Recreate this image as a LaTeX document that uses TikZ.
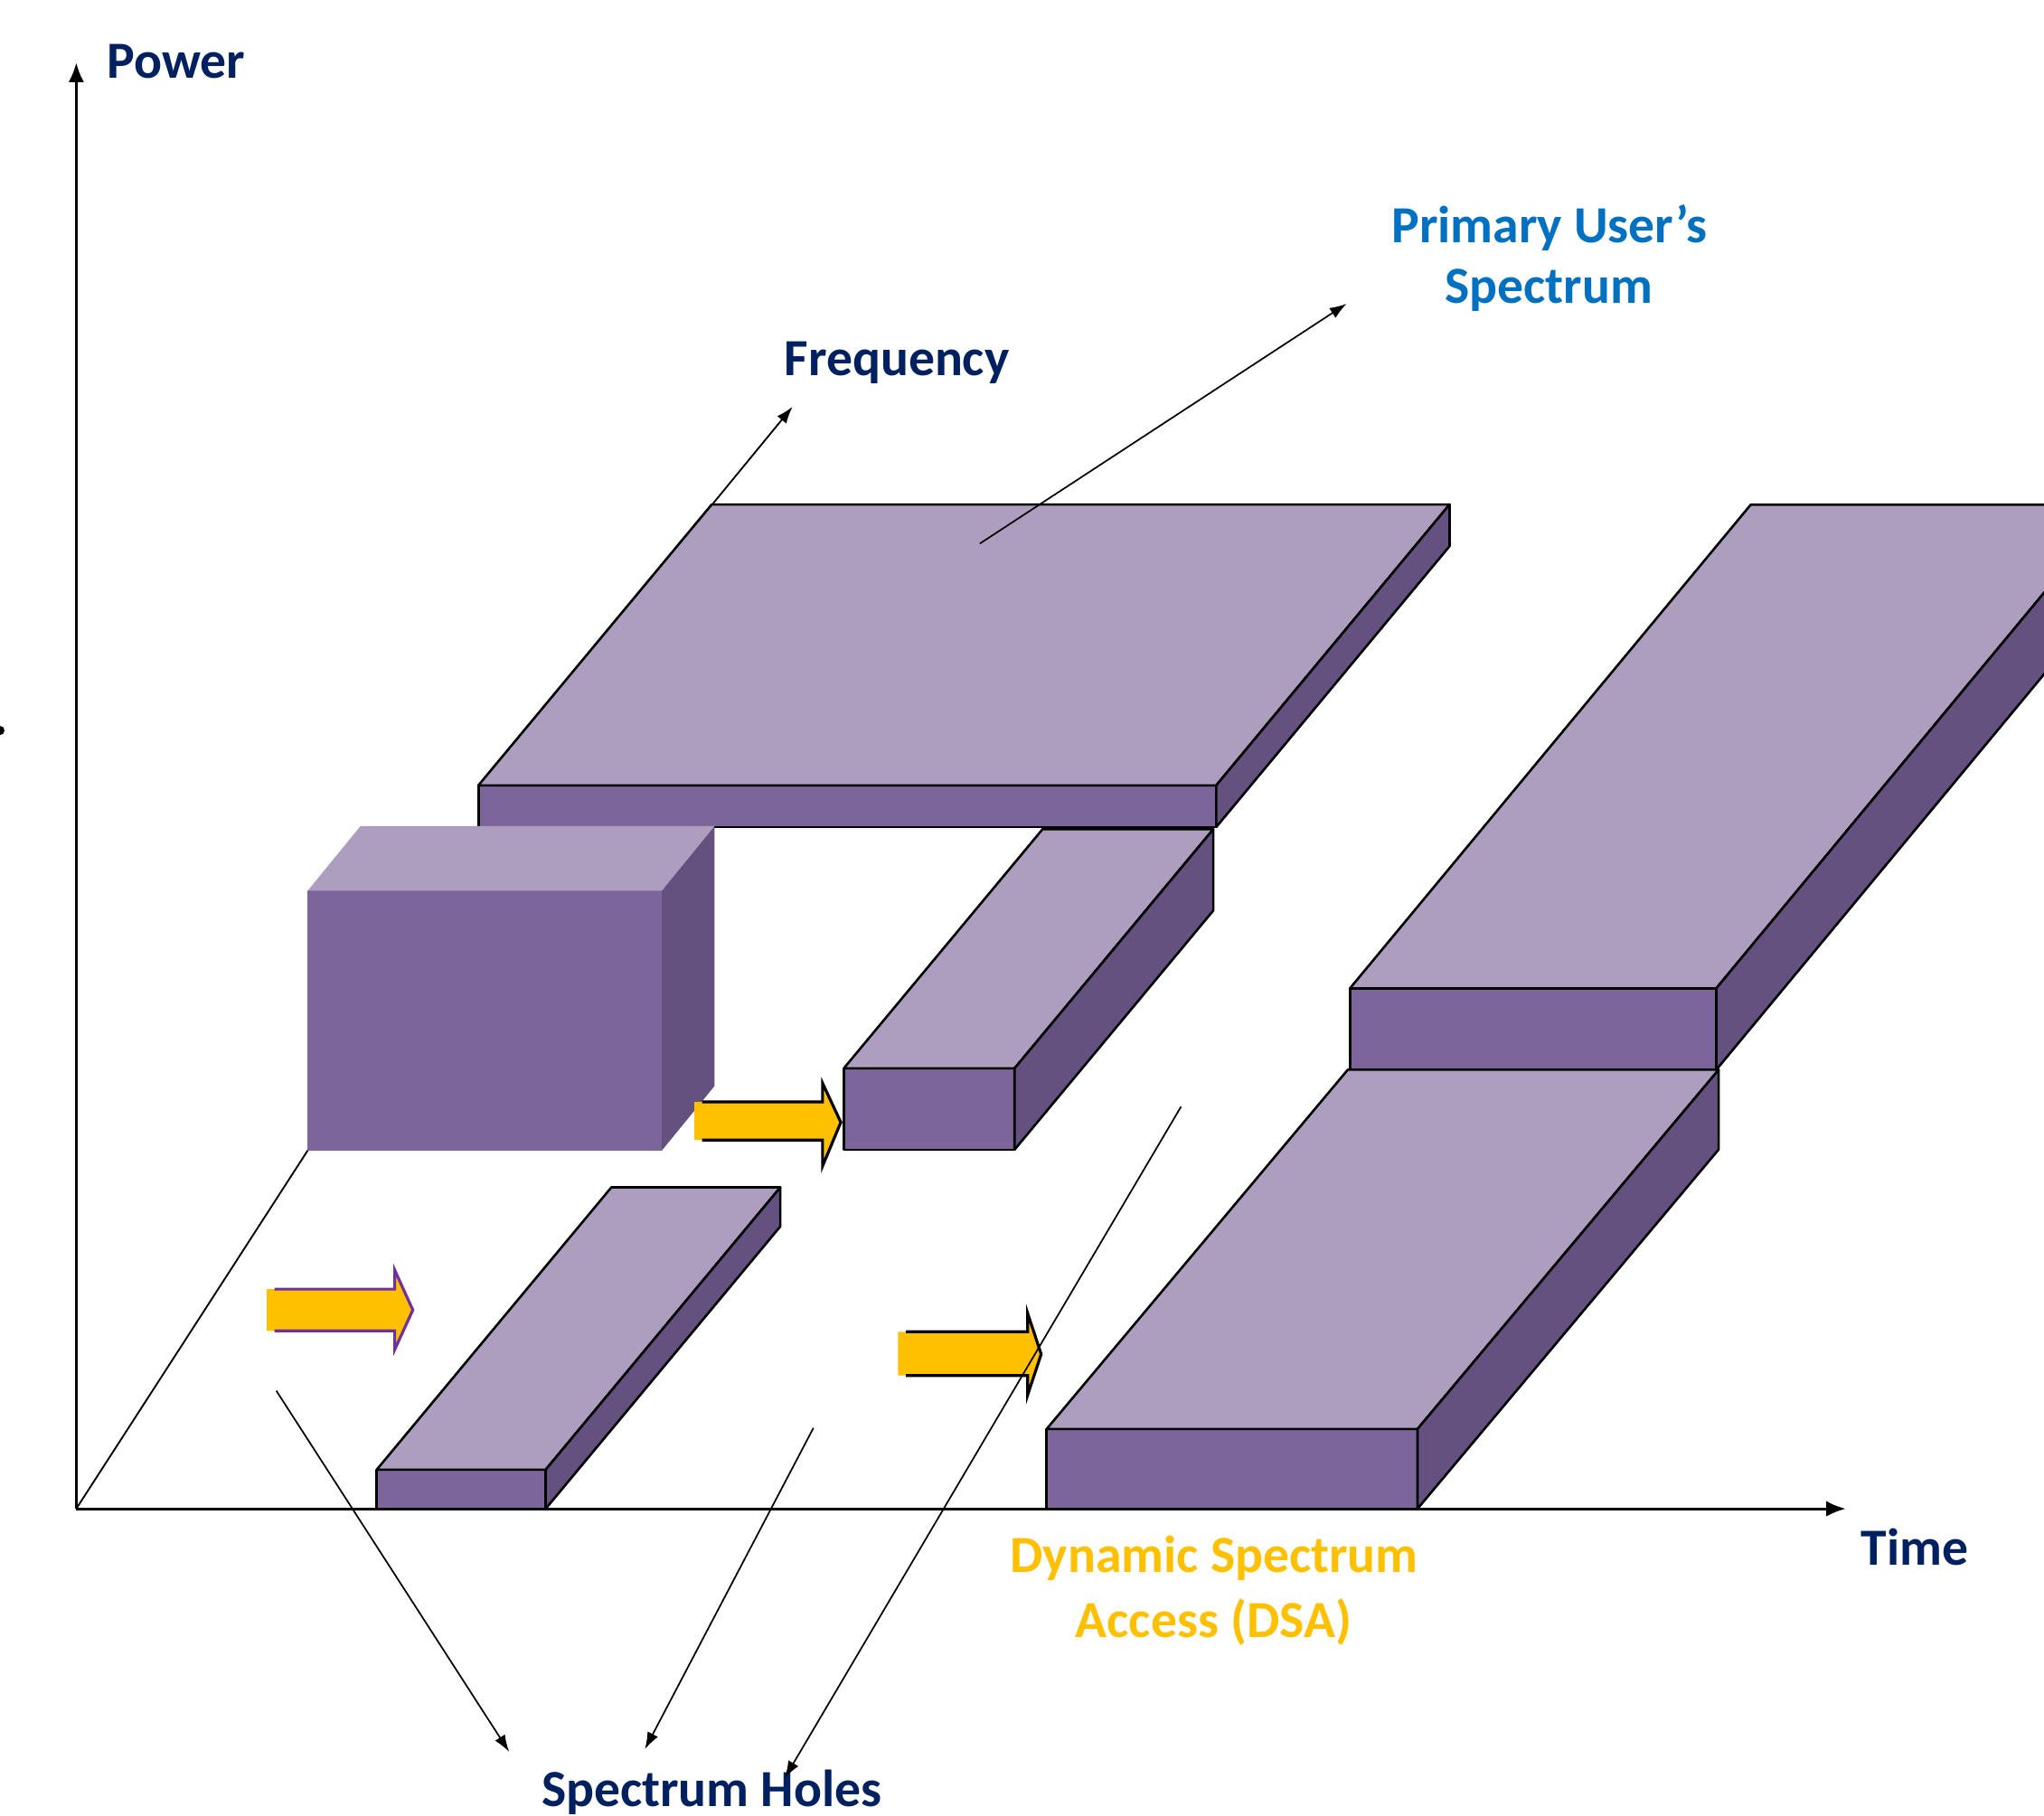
\documentclass[tikz,border=0pt]{standalone}
\usepackage{fontspec}
\setmainfont{Carlito}
\usetikzlibrary{arrows.meta}
\definecolor{topc}{HTML}{AD9EC0}
\definecolor{frontc}{HTML}{7C659A}
\definecolor{sidec}{HTML}{645180}
\definecolor{gold}{HTML}{FFC000}
\definecolor{navy}{HTML}{002060}
\definecolor{pblue}{HTML}{0070C0}
\definecolor{arrowpurple}{HTML}{7030A0}
% #1 edge style, #2 x, #3 y bottom, #4 width, #5 height, #6 dx, #7 dy (depth)
\newcommand{\mybox}[7]{%
  \path[#1,fill=frontc] (#2,#3) rectangle ++(#4,-#5);
  \path[#1,fill=topc] (#2,#3-#5) -- ++(#4,0) -- ++(#6,#7) -- ++(-#4,0) -- cycle;
  \path[#1,fill=sidec] (#2+#4,#3-#5) -- ++(#6,#7) -- ++(0,#5) -- (#2+#4,#3) -- cycle;
}
% block arrow: #1 outline colour, #2 x left, #3 x head, #4 y top, #5 y bottom, #6 head top, #7 head bottom, #8 tip x, #9 tip y
\newcommand{\blockarrow}[9]{%
  \fill[gold] (#2,#4) -- (#3,#4) -- (#3,#6) -- (#8,#9) -- (#3,#7) -- (#3,#5) -- (#2,#5) -- cycle;
  \draw[blockedge,#1] (#2+6,#4) -- (#3,#4) -- (#3,#6) -- (#8,#9) -- (#3,#7) -- (#3,#5) -- (#2+6,#5);
}
\begin{document}
\begin{tikzpicture}[x=1pt,y=-1pt,
  axis/.style={line width=2.2pt,-{Latex[length=15pt,width=12pt]}},
  conn/.style={line width=1.2pt,-{Latex[length=13pt,width=9pt]}},
  edge/.style={draw=black,line width=1.8pt,line join=round},
  noedge/.style={},
  blockedge/.style={line width=2.2pt,line join=miter},
  lbl/.style={font=\bfseries\fontsize{40}{48}\selectfont,inner sep=0pt,anchor=base},
]
\useasboundingbox (0,0) rectangle (1568,1393);

% axes
\coordinate (O) at (58.5,1157.5);
\coordinate (ytip) at (58.5,48);
\coordinate (xtip) at (1416,1157.5);
\coordinate (f1) at (236,882.7);
\coordinate (f2) at (367,634.5);
\coordinate (f3) at (546,387.5);
\coordinate (ftip) at (608,312);
\draw[axis] (O) -- (ytip);
\draw[axis] (O) -- (xtip);
\draw[line width=1.3pt,-{Latex[length=13pt,width=9pt]}] (O) -- (f1) -- (f2) -- (f3) -- (ftip);

% small mark at the left edge
\fill[black] (0,560.4) circle (3.5);

% primary user's slab (back)
\mybox{edge}{367}{634.5}{566}{32}{179}{-215.5}
% upper right bar
\mybox{edge}{1035.6}{820.7}{281}{62.5}{307.4}{-371}
% middle bar
\mybox{edge}{647.3}{882}{131}{62.4}{152.5}{-183.5}
% cube
\mybox{noedge}{236}{882.7}{271.7}{199.3}{40.5}{-49.6}
% small bar
\mybox{edge}{289}{1157.5}{129.6}{30}{180}{-216.6}
% lower right bar
\mybox{edge}{802.9}{1157.5}{284.5}{61.2}{231}{-275.6}

% yellow block arrows
\blockarrow{arrowpurple}{204.6}{302.8}{989}{1021}{974.4}{1035.4}{316.7}{1005}
\blockarrow{black}{532.6}{631}{845.4}{874.6}{831}{894.6}{645}{861}
\blockarrow{black}{688.9}{788.3}{1021.7}{1055.3}{1007.4}{1070.3}{798.7}{1038.9}

% callout arrows
\coordinate (pus) at (751.7,417);
\coordinate (pue) at (1033,233);
\coordinate (h1s) at (212,1067);
\coordinate (h1e) at (390.6,1344);
\coordinate (h2s) at (624,1095.5);
\coordinate (h2e) at (494.7,1342);
\coordinate (h3s) at (906,849);
\coordinate (h3e) at (602,1364);
\draw[conn] (pus) -- (pue);
\draw[conn] (h1s) -- (h1e);
\draw[conn] (h2s) -- (h2e);

% labels
\node[lbl,text=navy,anchor=base west] (power) at (82,60) {Power};
\node[lbl,text=navy] (freq) at (688,288) {Frequency};
\node[lbl,text=pblue] (pu1) at (1188.5,186) {Primary User’s};
\node[lbl,text=pblue] (pu2) at (1188,233) {Spectrum};
\node[lbl,text=navy] (time) at (1469,1201) {Time};
\node[lbl,text=gold] (dsa1) at (931.5,1206) {Dynamic Spectrum};
\node[lbl,text=gold] (dsa2) at (931,1256) {Access (DSA)};
\node[lbl,text=navy] (holes) at (546,1386) {Spectrum Holes};

\draw[conn] (h3s) -- (h3e);
\end{tikzpicture}
\end{document}
